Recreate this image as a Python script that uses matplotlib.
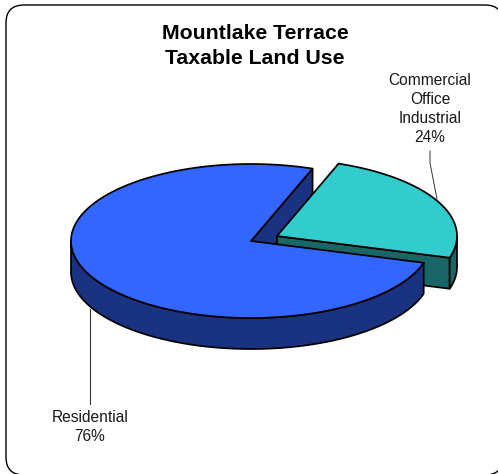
import numpy as np
import matplotlib
matplotlib.use("agg")
import matplotlib.pyplot as plt
from matplotlib.patches import Polygon, FancyBboxPatch

plt.rcParams['font.family'] = ['Liberation Sans', 'DejaVu Sans']

title = "Mountlake Terrace\nTaxable Land Use"
categories = ["Residential", "Commercial\nOffice\nIndustrial"]
shares = [76, 24]
top_colors = ["#3366FF", "#33CCCC"]
side_colors = ["#1A3380", "#1A6666"]

# layout in pixels
rx, ry, depth = 180, 77, 31
start = 70.0
res_c = (251, 241)
com_c = (277, 236)

res_span = shares[0] / sum(shares) * 360
com_span = shares[1] / sum(shares) * 360


def arc(c, a0, a1, dy=0):
    t = np.radians(np.linspace(a0, a1, 200))
    return np.column_stack([c[0] + rx * np.cos(t), c[1] - ry * np.sin(t) + dy])


def add(pts, fc):
    ax.add_patch(Polygon(pts, closed=True, fc=fc, ec="black", lw=1.25, joinstyle="round"))


fig = plt.figure(figsize=(4.98, 4.74), dpi=100)
ax = fig.add_axes([0, 0, 1, 1])
ax.set_xlim(0, 498)
ax.set_ylim(474, 0)
ax.axis("off")

# frame runs off the right and bottom of the image
ax.add_patch(FancyBboxPatch((6, 5), 497, 470, boxstyle="round,pad=0,rounding_size=18",
                            fc="white", ec="black", lw=1.0))

# residential, back cut face
p = arc(res_c, start, start, 0)[0]
add([res_c, p, (p[0], p[1] + depth), (res_c[0], res_c[1] + depth)], side_colors[0])

# commercial wedge
a0 = start - com_span
e = arc(com_c, a0, a0)[0]
add([com_c, e, (e[0], e[1] + depth), (com_c[0], com_c[1] + depth)], side_colors[1])
top = arc(com_c, a0, 0)
add(np.vstack([top, arc(com_c, 0, a0, depth)]), side_colors[1])
add(np.vstack([[com_c], arc(com_c, a0, start)]), top_colors[1])

# residential wedge
a1 = start + res_span
add(np.vstack([arc(res_c, 180, a1), arc(res_c, a1, 180, depth)]), side_colors[0])
add(np.vstack([[res_c], arc(res_c, start, a1)]), top_colors[0])

# leader lines
ax.plot([430, 430, 437], [151, 163, 199], color="#333333", lw=0.7)
ax.plot([90, 90], [309, 404], color="#333333", lw=0.8)

ax.text(255, 46, title, ha="center", va="center", fontsize=15.3, fontweight="bold",
        linespacing=1.36, color="black")
ax.text(430, 109, categories[1] + "\n%d%%" % shares[1], ha="center", va="center",
        fontsize=11.2, linespacing=1.36, color="#1a1a1a")
ax.text(90, 427, categories[0] + "\n%d%%" % shares[0], ha="center", va="center",
        fontsize=11.2, linespacing=1.36, color="#1a1a1a")

fig.savefig("out.png", dpi=100)
